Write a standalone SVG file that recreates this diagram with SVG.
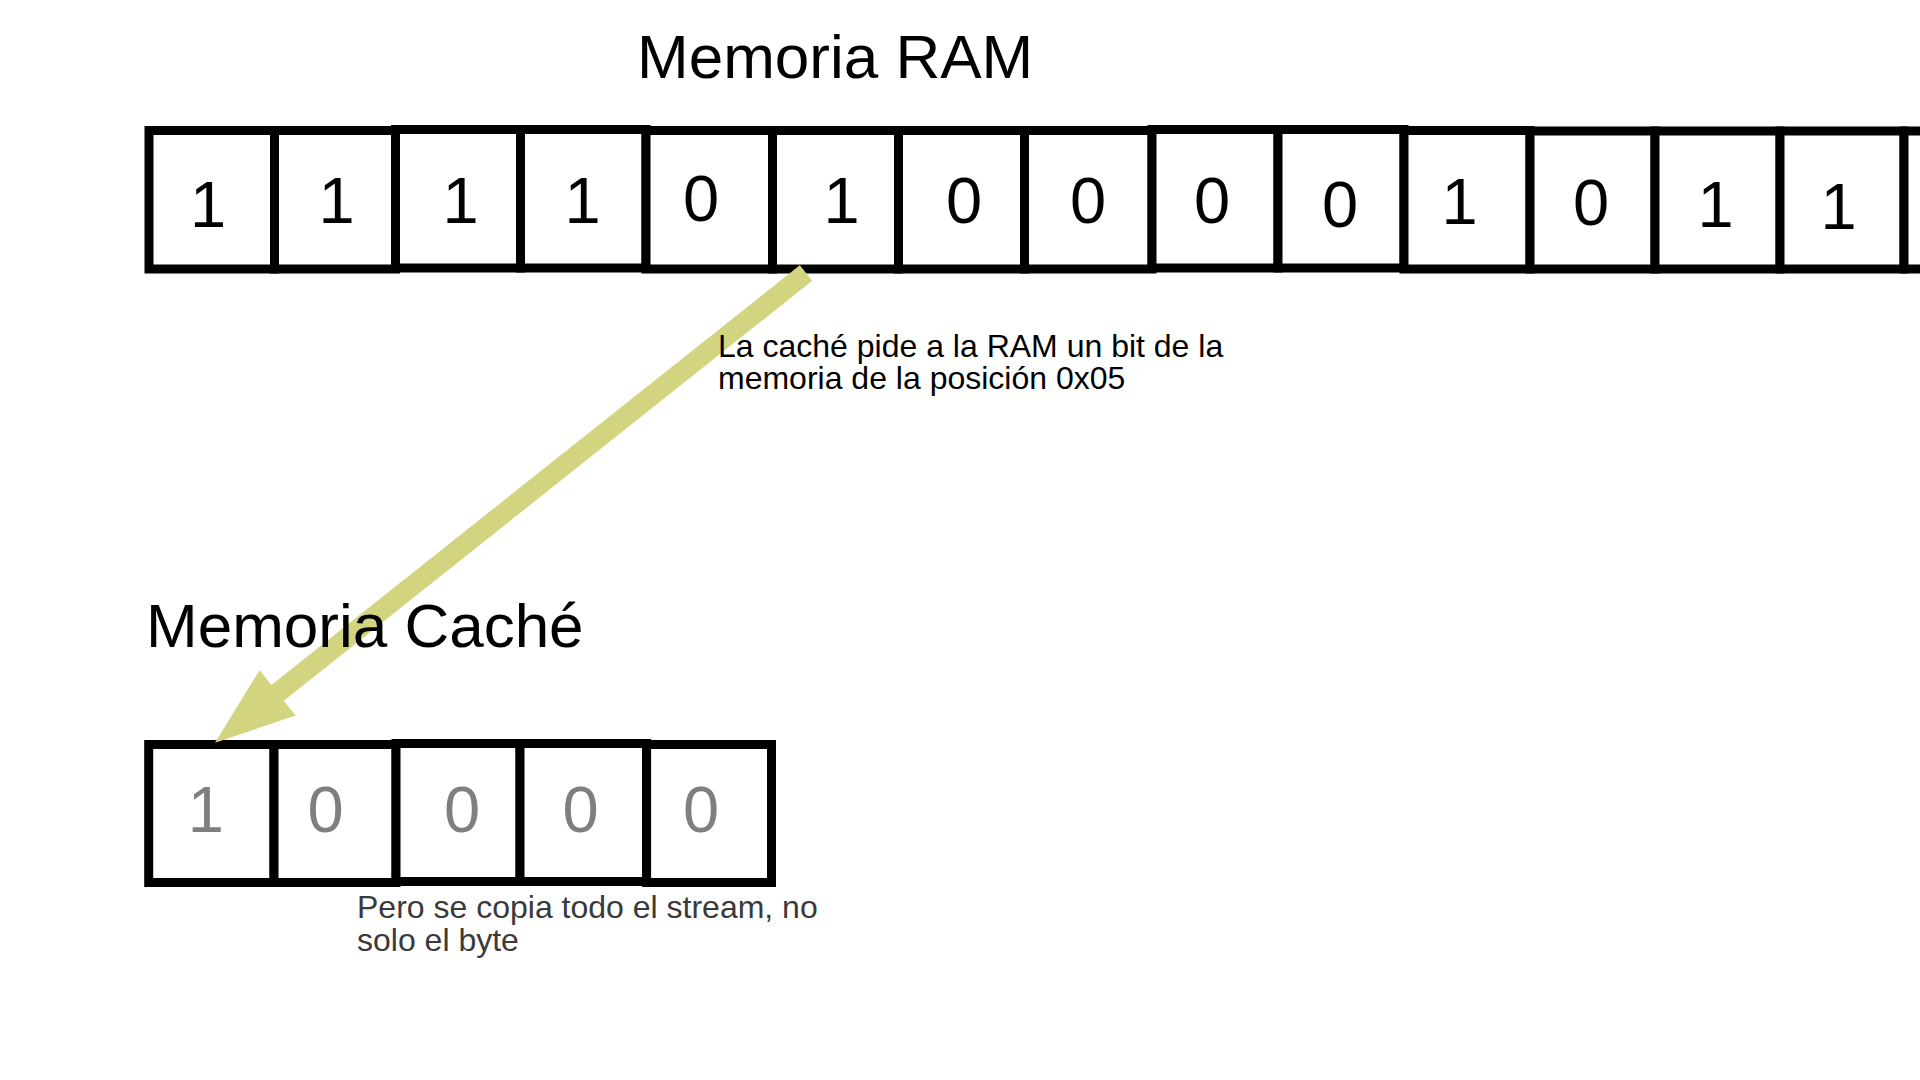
<svg xmlns="http://www.w3.org/2000/svg" width="1920" height="1080" viewBox="0 0 1920 1080">
<style>
.cell{fill:#ffffff;stroke:#000000;stroke-width:9}
.bit{font-family:"Liberation Sans",Arial,Helvetica,sans-serif;font-size:65px;text-anchor:middle;fill:#000000}
.cbit{font-family:"Liberation Sans",Arial,Helvetica,sans-serif;font-size:65px;text-anchor:middle;fill:#7f7f7f}
.title{font-family:"Liberation Sans",Arial,Helvetica,sans-serif;font-size:62px;fill:#000000}
.note{font-family:"Liberation Sans",Arial,Helvetica,sans-serif;font-size:32px;fill:#000000}
.note2{font-family:"Liberation Sans",Arial,Helvetica,sans-serif;font-size:32px;fill:#3a3a3a}
.arrow{fill:#d3d47f}
</style>
<rect x="0" y="0" width="1920" height="1080" fill="#ffffff"/>

<g id="ram">
<g id="ram-0"><rect class="cell" x="149" y="130.5" width="125.5" height="138.5"/><text class="bit" x="208" y="226.7">1</text></g>
<g id="ram-1"><rect class="cell" x="274.5" y="130.5" width="121" height="138.5"/><text class="bit" x="336.5" y="223.3">1</text></g>
<g id="ram-2"><rect class="cell" x="395.5" y="129.5" width="125" height="138.5"/><text class="bit" x="460.5" y="222.7">1</text></g>
<g id="ram-3"><rect class="cell" x="520.5" y="129.5" width="125.5" height="138.5"/><text class="bit" x="582.5" y="223.3">1</text></g>
<g id="ram-4"><rect class="cell" x="646" y="130.5" width="126.5" height="138.5"/><text class="bit" x="701" y="220.7">0</text></g>
<g id="ram-5"><rect class="cell" x="772.5" y="130.5" width="126" height="138.5"/><text class="bit" x="841.5" y="223.3">1</text></g>
<g id="ram-6"><rect class="cell" x="898.5" y="130.5" width="126" height="138.5"/><text class="bit" x="964" y="223.3">0</text></g>
<g id="ram-7"><rect class="cell" x="1024.5" y="130.5" width="127.5" height="138.5"/><text class="bit" x="1088" y="223.3">0</text></g>
<g id="ram-8"><rect class="cell" x="1152" y="129.5" width="126" height="138.5"/><text class="bit" x="1212" y="223.3">0</text></g>
<g id="ram-9"><rect class="cell" x="1278" y="129.5" width="126" height="138.5"/><text class="bit" x="1340" y="226.7">0</text></g>
<g id="ram-10"><rect class="cell" x="1404" y="130.5" width="126" height="138.5"/><text class="bit" x="1459.5" y="224">1</text></g>
<g id="ram-11"><rect class="cell" x="1530" y="131" width="125" height="138"/><text class="bit" x="1591" y="225">0</text></g>
<g id="ram-12"><rect class="cell" x="1655" y="131" width="125" height="138"/><text class="bit" x="1715.5" y="227.3">1</text></g>
<g id="ram-13"><rect class="cell" x="1780" y="131" width="124" height="138"/><text class="bit" x="1838.5" y="229.3">1</text></g>
<g id="ram-14"><rect class="cell" x="1904" y="131" width="125" height="138"/></g>
</g>

<g id="cache">
<g id="cache-0"><rect class="cell" x="148.7" y="744.5" width="125.3" height="138"/><text class="cbit" x="205.8" y="831.7">1</text></g>
<g id="cache-1"><rect class="cell" x="274" y="744.5" width="122" height="138"/><text class="cbit" x="325.7" y="831.7">0</text></g>
<g id="cache-2"><rect class="cell" x="396" y="743.5" width="124" height="138"/><text class="cbit" x="462" y="831.7">0</text></g>
<g id="cache-3"><rect class="cell" x="520" y="743.5" width="126.6" height="138"/><text class="cbit" x="580.7" y="831.7">0</text></g>
<g id="cache-4"><rect class="cell" x="646.6" y="744.5" width="124.9" height="138"/><text class="cbit" x="701" y="831.7">0</text></g>
</g>

<g id="connectors">
<polygon id="arrow-ram-to-cache" class="arrow" points="799.8,265.2 812.2,280.8 283.8,700.7 295.6,715.6 215,742.7 259.6,670.2 271.4,685.1"/>
</g>

<g id="title-ram"><text class="title" x="637" y="78">Memoria RAM</text></g>
<g id="title-cache"><text class="title" x="146" y="647">Memoria Caché</text></g>

<g id="note-request">
<text class="note" x="718" y="356.5">La caché pide a la RAM un bit de la</text>
<text class="note" x="718" y="389">memoria de la posición 0x05</text>
</g>
<g id="note-stream">
<text class="note2" x="357" y="918">Pero se copia todo el stream, no</text>
<text class="note2" x="357" y="951">solo el byte</text>
</g>
</svg>
